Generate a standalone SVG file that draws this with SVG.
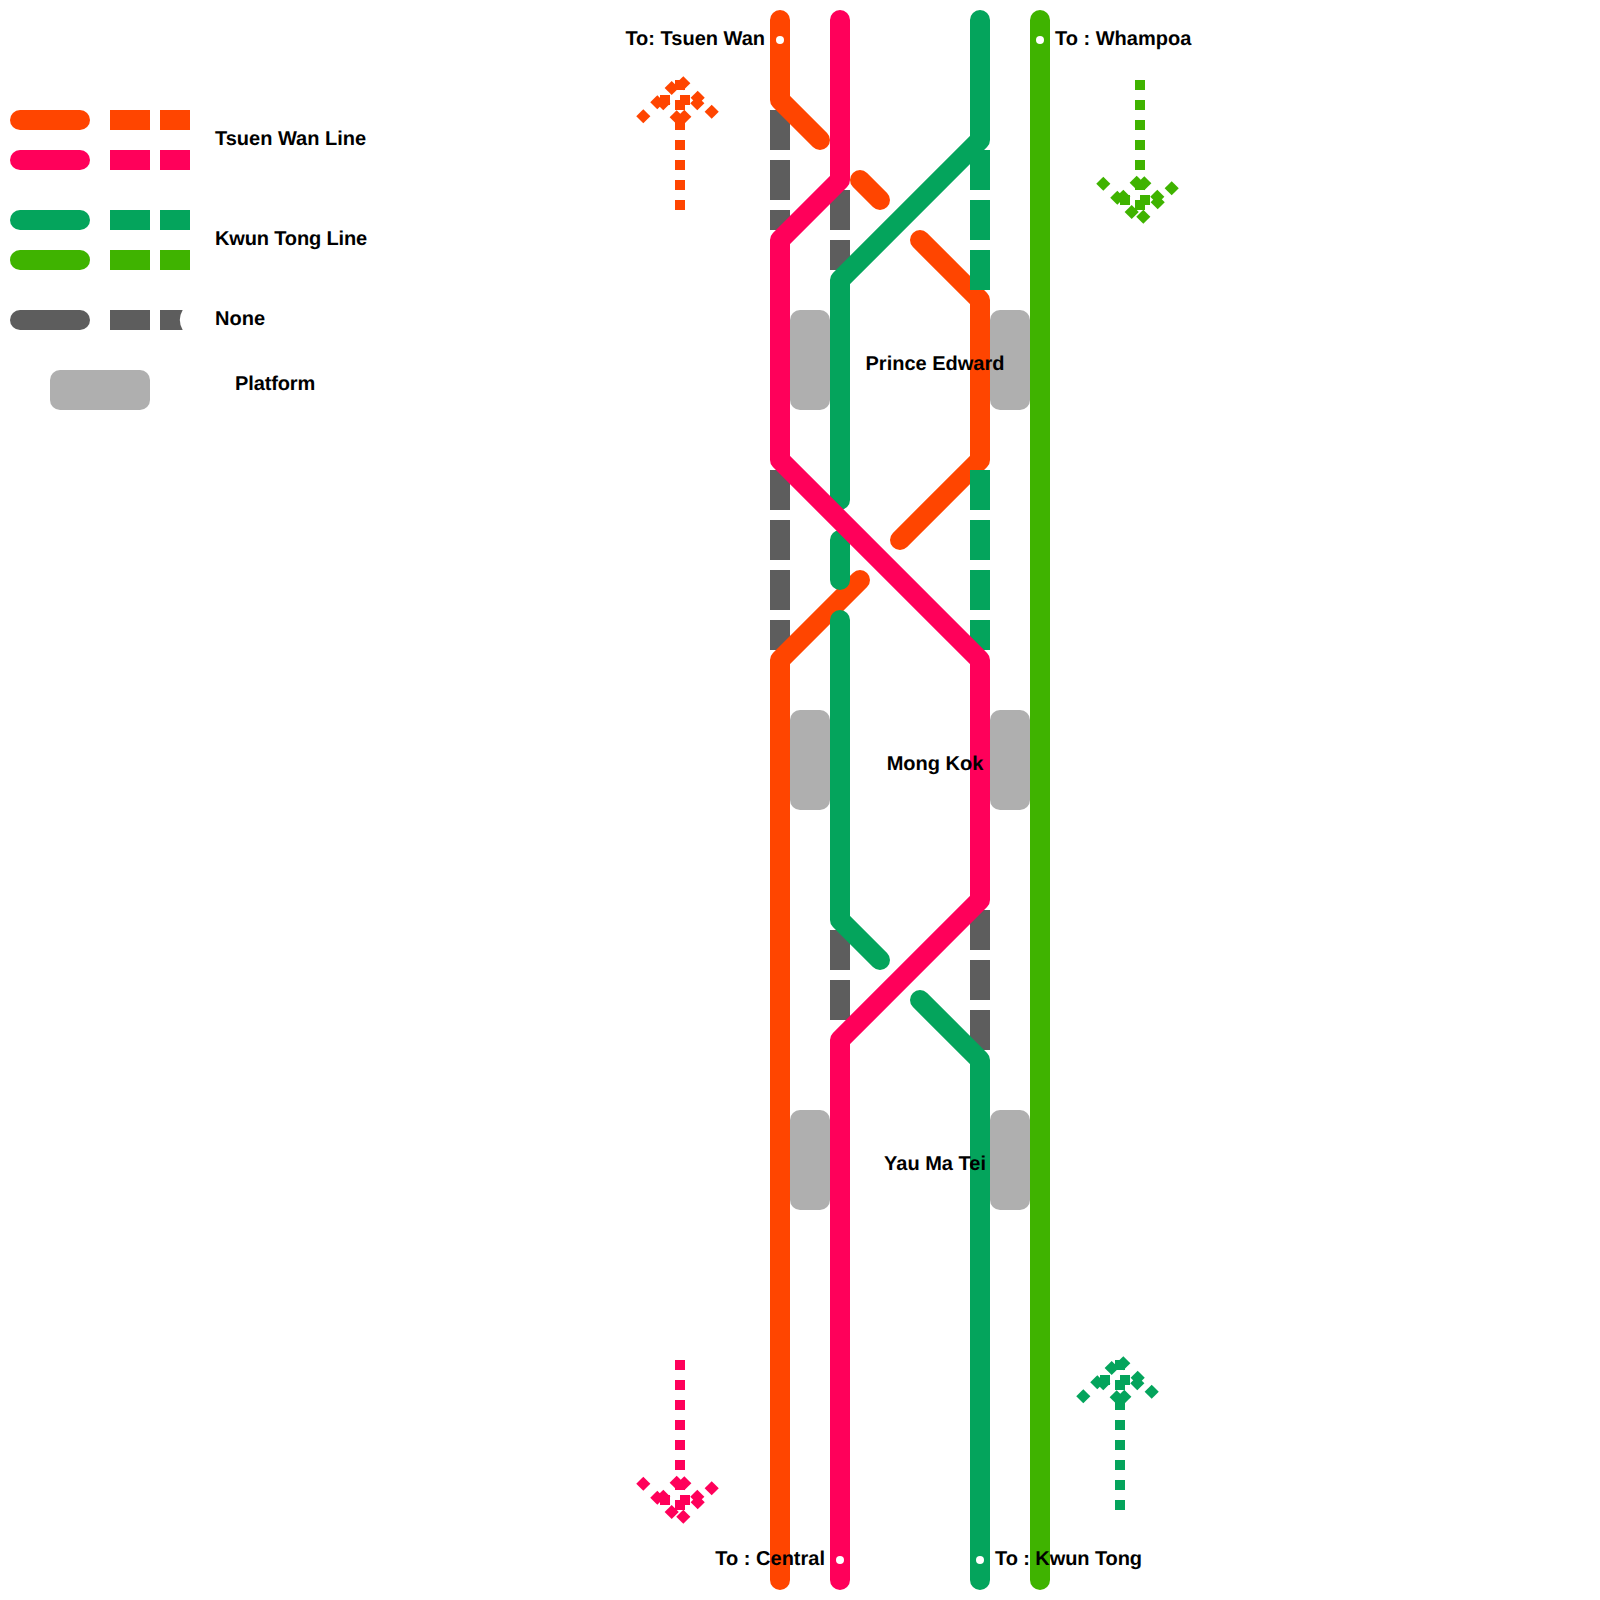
<svg xmlns="http://www.w3.org/2000/svg" width="1600" height="1600" viewBox="0 0 1600 1600">
<style>
.ln{fill:none;stroke-width:20;stroke-linecap:round;stroke-linejoin:round}
.ds{fill:none;stroke-width:20;stroke-dasharray:40 10}
.ar{fill:none;stroke-width:10;stroke-dasharray:10 10}
.o{stroke:#FF4500}.p{stroke:#FF005A}.g{stroke:#04A45C}.l{stroke:#3FB300}.k{stroke:#5D5D5D}
.fo{fill:#FF4500}.fp{fill:#FF005A}.fg{fill:#04A45C}.fl{fill:#3FB300}
.plat{fill:#AFAFAF}
.dot{fill:#fff}
text{font-family:"Liberation Sans",Arial,sans-serif;font-size:20px;font-weight:bold;fill:#000;text-rendering:geometricPrecision}
.m{text-anchor:middle}.e{text-anchor:end}
</style>
<defs>
<g id="head">
<rect x="0" y="15" width="10" height="10"/><rect x="-20" y="15" width="10" height="10"/>
<rect x="-5" y="-5" width="10" height="10" transform="translate(-36.7 36.3) rotate(45)"/>
<rect x="-5" y="-5" width="10" height="10" transform="translate(31.7 31.7) rotate(45)"/>
<rect x="-5" y="-5" width="10" height="10" transform="translate(-22.7 22.3) rotate(45)"/>
<rect x="-5" y="-5" width="10" height="10" transform="translate(-16.7 23.3) rotate(45)"/>
<rect x="-5" y="-5" width="10" height="10" transform="translate(17.7 17.7) rotate(45)"/>
<rect x="-5" y="-5" width="10" height="10" transform="translate(17.3 23.3) rotate(45)"/>
<rect x="-5" y="-5" width="10" height="10" transform="translate(-8.3 8) rotate(45)"/>
<rect x="-5" y="-5" width="10" height="10" transform="translate(3.3 3.3) rotate(45)"/>
<rect x="-5" y="-5" width="10" height="10" transform="translate(-3.3 37.3) rotate(45)"/>
<rect x="-5" y="-5" width="10" height="10" transform="translate(4.3 36.7) rotate(45)"/>
</g>
</defs>
<g id="legend">
<path class="ln o" d="M20 120H80"/><path class="ds o" d="M110 120H190"/>
<path class="ln p" d="M20 160H80"/><path class="ds p" d="M110 160H190"/>
<path class="ln g" d="M20 220H80"/><path class="ds g" d="M110 220H190"/>
<path class="ln l" d="M20 260H80"/><path class="ds l" d="M110 260H190"/>
<path class="ln k" d="M20 320H80"/><path class="ds k" d="M110 320H190"/>
<path d="M182.7 310A20 20 0 0 0 182.7 330H195V310Z" fill="#fff"/>
<rect class="plat" x="50" y="370" width="100" height="40" rx="10"/>
<text x="215" y="145">Tsuen Wan Line</text>
<text x="215" y="245" letter-spacing="-0.15">Kwun Tong Line</text>
<text x="215" y="325">None</text>
<text x="235" y="390" letter-spacing="-0.12">Platform</text>
</g>
<g id="station-prince-edward"><rect class="plat" x="790" y="310" width="40" height="100" rx="10"/><rect class="plat" x="990" y="310" width="40" height="100" rx="10"/></g>
<g id="station-mong-kok"><rect class="plat" x="790" y="710" width="40" height="100" rx="10"/><rect class="plat" x="990" y="710" width="40" height="100" rx="10"/></g>
<g id="station-yau-ma-tei"><rect class="plat" x="790" y="1110" width="40" height="100" rx="10"/><rect class="plat" x="990" y="1110" width="40" height="100" rx="10"/></g>
<g id="connectors">
<path class="ds k" d="M780 110V230M780 470V650M840 190V270M840 930V1020M980 910V1050"/>
<path class="ln o" d="M780 20V100L820 140M860 180L880 200M920 240L980 300V460L900 540M860 580L780 660V1580"/>
<path class="ln g" d="M980 20V140L840 280V500M840 540V580M840 620V920L880 960M920 1000L980 1060V1580"/>
<path class="ds g" d="M980 150V290M980 470V650"/>
<path class="ln p" d="M840 20V180L780 240V460L980 660V900L840 1040V1580"/>
<path class="ln l" d="M1040 20V1580"/>
</g>
<g id="arrow-tsuen-wan"><path class="ar o" d="M680 210V80"/><use href="#head" class="fo" transform="translate(680 80)"/></g>
<g id="arrow-central"><path class="ar p" d="M680 1360V1510"/><use href="#head" class="fp" transform="translate(680 1520) scale(1 -1)"/></g>
<g id="arrow-kwun-tong"><path class="ar g" d="M1120 1510V1360"/><use href="#head" class="fg" transform="translate(1120 1360)"/></g>
<g id="arrow-whampoa"><path class="ar l" d="M1140 80V210"/><use href="#head" class="fl" transform="translate(1140 220) scale(1 -1)"/></g>
<g id="terminals">
<circle class="dot" cx="780" cy="40" r="4"/><circle class="dot" cx="1040" cy="40" r="4"/>
<circle class="dot" cx="840" cy="1560" r="4"/><circle class="dot" cx="980" cy="1560" r="4"/>
</g>
<g id="labels">
<text class="e" x="765" y="45">To: Tsuen Wan</text>
<text x="1055" y="45">To : Whampoa</text>
<text class="e" x="825" y="1565">To : Central</text>
<text x="995" y="1565" letter-spacing="-0.08">To : Kwun Tong</text>
<text class="m" x="935" y="370">Prince Edward</text>
<text class="m" x="935" y="770">Mong Kok</text>
<text class="m" x="935" y="1170">Yau Ma Tei</text>
</g>
</svg>
